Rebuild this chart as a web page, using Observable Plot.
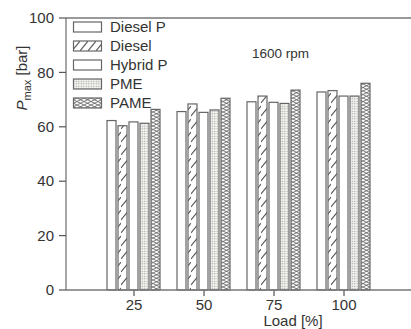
<!DOCTYPE html>
<html><head><meta charset="utf-8">
<script src="https://cdn.jsdelivr.net/npm/d3@7"></script>
<script src="https://cdn.jsdelivr.net/npm/@observablehq/plot@0.6"></script>
<style>
html,body{margin:0;padding:0;background:#fff;}
#chart{position:relative;width:411px;height:329px;overflow:hidden;}
</style>
</head><body>
<svg width="0" height="0" style="position:absolute">
<defs>
<pattern id="p-diesel" patternUnits="userSpaceOnUse" width="8" height="13">
<rect width="8" height="13" fill="#fff"/>
<path d="M0,12 L8,2" stroke="#555" stroke-width="1.1"/>
</pattern>
<pattern id="p-pme" patternUnits="userSpaceOnUse" width="2.5" height="2.5">
<rect width="2.5" height="2.5" fill="#f4f4f0"/>
<circle cx="1.25" cy="1.25" r="0.7" fill="#999"/>
</pattern>
<pattern id="p-pame" patternUnits="userSpaceOnUse" width="7" height="7">
<rect width="7" height="7" fill="#fff"/>
<path d="M0,0 L7,3.5 L0,7 M7,0 L0,3.5 L7,7" stroke="#666" stroke-width="0.9" fill="none"/>
</pattern>
</defs>
</svg>
<div id="chart"></div>
<script>
const loads = [25, 50, 75, 100];
const series = ["Diesel P", "Diesel", "Hybrid P", "PME", "PAME"];
const dieselP = [62.3, 65.6, 69.2, 72.8];
const diesel  = [60.4, 68.4, 71.3, 73.3];
const hybridP = [61.8, 65.3, 69.0, 71.3];
const pme     = [61.3, 66.2, 68.6, 71.3];
const pame    = [66.4, 70.5, 73.5, 76.0];
const yTicks = [0, 20, 40, 60, 80, 100];
const fills = {"Diesel P": "#fff", "Diesel": "url(#p-diesel)", "Hybrid P": "#fff", "PME": "url(#p-pme)", "PAME": "url(#p-pame)"};
const values = [dieselP, diesel, hybridP, pme, pame];

const data = [];
loads.forEach((l, i) => series.forEach((s, j) => data.push({load: l, series: s, value: values[j][i], fill: fills[s]})));

const font = "'Liberation Sans', Arial, sans-serif";
const W = 411, H = 329, mL = 66, mR = 0, mT = 18, mB = 39;
const chart = Plot.plot({
  width: W, height: H,
  marginLeft: mL, marginRight: mR, marginTop: mT, marginBottom: mB,
  style: {fontFamily: font, fontSize: "15px", color: "#333", background: "transparent"},
  fx: {domain: loads, paddingInner: 0.24, paddingOuter: 0.55, label: null, axis: "bottom", tickSize: 6, tickPadding: 3},
  x: {domain: series, paddingInner: 0.22, paddingOuter: 0, axis: null},
  y: {domain: [0, 100], label: null, axis: null},
  color: {type: "identity"},
  marks: [
    Plot.barY(data, {fx: "load", x: "series", y: "value", fill: "fill", stroke: "#666", strokeWidth: 1.2})
  ]
});
document.getElementById("chart").appendChild(chart);

const svg = d3.select(chart);
const ys = chart.scale("y");
const y0 = ys.apply(0), y100 = ys.apply(100);
const frame = svg.append("g").attr("stroke", "#777").attr("stroke-width", 1.3);
frame.append("line").attr("x1", mL).attr("x2", W - mR).attr("y1", y0).attr("y2", y0);
frame.append("line").attr("x1", mL).attr("x2", W - mR).attr("y1", y100).attr("y2", y100);
frame.append("line").attr("x1", mL).attr("x2", mL).attr("y1", y100).attr("y2", y0);

// y axis ticks and labels from the y scale
const ya = svg.append("g").attr("font-family", font).attr("font-size", 15).attr("fill", "#333").attr("text-anchor", "end");
yTicks.forEach(t => {
  const yy = ys.apply(t);
  ya.append("line").attr("x1", mL - 7).attr("x2", mL).attr("y1", yy).attr("y2", yy).attr("stroke", "#555").attr("stroke-width", 1.2);
  ya.append("text").attr("x", mL - 12).attr("y", yy).attr("dy", "0.35em").text(t);
});

// legend
const lg = svg.append("g").attr("font-family", font).attr("font-size", 15).attr("fill", "#333").attr("text-anchor", "start");
series.forEach((s, i) => {
  lg.append("rect").attr("x", 73.5).attr("y", 22 + i * 19).attr("width", 28).attr("height", 10)
    .attr("fill", fills[s]).attr("stroke", "#666").attr("stroke-width", 1.2);
  lg.append("text").attr("x", 110).attr("y", 27 + i * 19).attr("dy", "0.35em").text(s);
});

// annotation
svg.append("text").attr("x", 252).attr("y", 53).attr("dy", "0.35em").attr("text-anchor", "start")
  .attr("font-family", font).attr("font-size", 13.5).attr("fill", "#333").text("1600 rpm");

// axis labels
const yl = svg.append("text").attr("transform", "translate(27,78) rotate(-90)")
  .attr("text-anchor", "middle").attr("font-family", font).attr("font-size", 15).attr("fill", "#333");
yl.append("tspan").attr("font-style", "italic").text("P");
yl.append("tspan").attr("font-size", 11).attr("dy", 4).text("max");
yl.append("tspan").attr("dy", -4).text(" [bar]");

svg.append("text").attr("x", 293).attr("y", 321).attr("dy", "0.35em").attr("text-anchor", "middle")
  .attr("font-family", font).attr("font-size", 15).attr("fill", "#333").text("Load [%]");
</script>
</body></html>
